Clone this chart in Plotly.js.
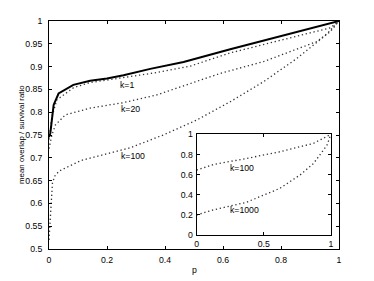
<!DOCTYPE html>
<html>
<head>
<meta charset="utf-8">
<script src="https://cdn.plot.ly/plotly-3.0.1.min.js"></script>
<style>html,body{margin:0;padding:0;background:#fff;}#chart{width:374px;height:281px;}</style>
</head>
<body>
<div id="chart"></div>
<script>
// main panel data
var solidP = [0, 0.0045, 0.016, 0.033, 0.084, 0.142, 0.2, 0.257, 0.349, 0.464, 0.625, 0.798, 0.993, 1];
var solidV = [0.745, 0.754, 0.816, 0.841, 0.860, 0.869, 0.874, 0.881, 0.895, 0.910, 0.938, 0.966, 0.998, 1];

var k1P = [0, 0.01, 0.027, 0.085, 0.142, 0.257, 0.372, 0.487, 0.625, 0.8, 0.97, 1];
var k1V = [0.74, 0.79, 0.827, 0.854, 0.865, 0.876, 0.887, 0.901, 0.930, 0.958, 0.985, 1];

var k20P = [0, 0.01, 0.022, 0.056, 0.142, 0.257, 0.372, 0.487, 0.59, 0.74, 0.822, 0.924, 0.96, 1];
var k20V = [0.72, 0.75, 0.772, 0.794, 0.809, 0.821, 0.838, 0.862, 0.885, 0.911, 0.930, 0.955, 0.973, 1];

var k100P = [0, 0.007, 0.012, 0.02, 0.035, 0.11, 0.2, 0.28, 0.394, 0.51, 0.625, 0.74, 0.855, 0.97, 1];
var k100V = [0.52, 0.60, 0.645, 0.66, 0.671, 0.694, 0.709, 0.722, 0.75, 0.783, 0.823, 0.867, 0.918, 0.977, 1];

// inset data
var in100P = [0, 0.124, 0.37, 0.62, 0.87, 0.97, 1];
var in100V = [0.645, 0.70, 0.76, 0.827, 0.91, 0.975, 1];
var in1000P = [0, 0.124, 0.37, 0.62, 0.77, 0.87, 0.97, 1];
var in1000V = [0.2, 0.25, 0.325, 0.464, 0.596, 0.71, 0.89, 1];

// ticks
var mainXTicks = [0, 0.2, 0.4, 0.6, 0.8, 1];
var mainXText = ["0", "0.2", "0.4", "0.6", "0.8", "1"];
var mainYTicks = [0.5, 0.55, 0.6, 0.65, 0.7, 0.75, 0.8, 0.85, 0.9, 0.95, 1];
var mainYText = ["0.5", "0.55", "0.6", "0.65", "0.7", "0.75", "0.8", "0.85", "0.9", "0.95", "1"];
var inXTicks = [0, 0.5, 1];
var inXText = ["0", "0.5", "1"];
var inYTicks = [0, 0.2, 0.4, 0.6, 0.8, 1];
var inYText = ["0", "0.2", "0.4", "0.6", "0.8", "1"];

// labels
var xTitle = "p";
var yTitle = "mean overlap / survival ratio";
var mainLabels = [{t: "k=1", p: 0.27, v: 0.860}, {t: "k=20", p: 0.28, v: 0.807}, {t: "k=100", p: 0.29, v: 0.705}];
var insetLabels = [{t: "k=100", p: 0.34, v: 0.67}, {t: "k=1000", p: 0.36, v: 0.25}];

var dotLine = {color: "#333", width: 1.3, dash: "1.3px,2.7px"};
var font = {family: "Liberation Sans, Arial, sans-serif", size: 8.7, color: "#000"};
var titleFont = {family: "Liberation Sans, Arial, sans-serif", size: 7.9, color: "#000"};

var traces = [
  {x: k1P, y: k1V, mode: "lines", line: dotLine, xaxis: "x", yaxis: "y", hoverinfo: "none"},
  {x: k20P, y: k20V, mode: "lines", line: dotLine, xaxis: "x", yaxis: "y", hoverinfo: "none"},
  {x: k100P, y: k100V, mode: "lines", line: dotLine, xaxis: "x", yaxis: "y", hoverinfo: "none"},
  {x: solidP, y: solidV, mode: "lines", line: {color: "#000", width: 2}, xaxis: "x", yaxis: "y", hoverinfo: "none"},
  {x: in100P, y: in100V, mode: "lines", line: dotLine, xaxis: "x2", yaxis: "y2", hoverinfo: "none"},
  {x: in1000P, y: in1000V, mode: "lines", line: dotLine, xaxis: "x2", yaxis: "y2", hoverinfo: "none"}
];

var annotations = [];
mainLabels.forEach(function (l) {
  annotations.push({x: l.p, y: l.v, xref: "x", yref: "y", text: l.t, showarrow: false, font: font});
});
insetLabels.forEach(function (l) {
  annotations.push({x: l.p, y: l.v, xref: "x2", yref: "y2", text: l.t, showarrow: false, font: font});
});
annotations.push({x: 0, y: 0.5, xref: "paper", yref: "paper", text: yTitle, textangle: -90,
  showarrow: false, xanchor: "center", yanchor: "middle", xshift: -28, font: titleFont});
annotations.push({x: 0.5, y: 0, xref: "paper", yref: "paper", text: xTitle,
  showarrow: false, xanchor: "center", yanchor: "middle", yshift: -21, font: font});

var axBase = {
  showline: true, linecolor: "#000", linewidth: 1, mirror: "ticks",
  ticks: "inside", ticklen: 3, tickcolor: "#000", tickwidth: 1,
  showgrid: false, zeroline: false, tickfont: font, fixedrange: true
};

var layout = {
  width: 374, height: 281,
  margin: {l: 49, r: 35, t: 21, b: 32, pad: 0},
  paper_bgcolor: "#fff", plot_bgcolor: "rgba(0,0,0,0)",
  showlegend: false,
  font: font,
  xaxis: Object.assign({}, axBase, {domain: [0, 1], range: [0, 1], tickvals: mainXTicks, ticktext: mainXText,
    ticklabelstandoff: 3}),
  yaxis: Object.assign({}, axBase, {domain: [0, 1], range: [0.5, 1], tickvals: mainYTicks, ticktext: mainYText,
    ticklabelstandoff: 4}),
  xaxis2: Object.assign({}, axBase, {domain: [0.509, 0.972], range: [0, 1], anchor: "y2", tickvals: inXTicks, ticktext: inXText, ticklabelstandoff: 0}),
  yaxis2: Object.assign({}, axBase, {domain: [0.061, 0.503], range: [0, 1], anchor: "x2", tickvals: inYTicks, ticktext: inYText, ticklabelstandoff: 1}),
  annotations: annotations,
  shapes: [{type: "rect", xref: "paper", yref: "paper", x0: 0.509, x1: 0.972, y0: 0.061, y1: 0.503,
    fillcolor: "#fff", line: {width: 0}, layer: "below"}]
};

Plotly.newPlot("chart", traces, layout, {staticPlot: true, displayModeBar: false});
</script>
</body>
</html>
